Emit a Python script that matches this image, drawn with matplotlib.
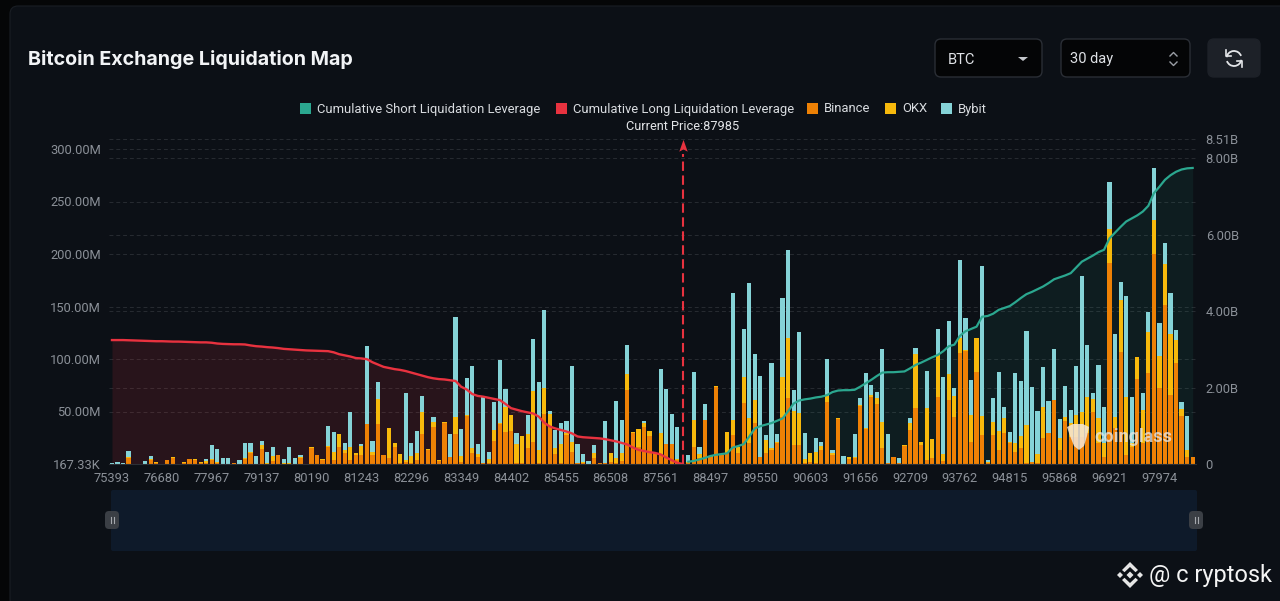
import numpy as np
import matplotlib
matplotlib.use("Agg")
import matplotlib.pyplot as plt
from matplotlib.patches import FancyBboxPatch, Polygon, Rectangle, Arc

plt.rcParams['font.family'] = ['Roboto', 'DejaVu Sans']

# values in millions, one per price bucket
binance = [0.3,0.3,0.3,5.7,0.3,0,0.3,4.1,1.3,0,
           3.5,5.4,0.3,1,4.4,4.1,1,1.3,3.8,1,
           0.3,0.3,0.6,0.3,4.4,10.8,0.3,14,0.3,3.2,
           8.3,0.3,0.3,0.3,5.4,0.3,14.9,8.3,3.5,16.5,
           3.8,15.9,10.8,3.8,8.6,8.3,38.1,8.3,38.1,8.3,
           5.4,15.9,1,1.6,0.6,3.8,28.6,13.3,35.6,3.2,
           39.4,6.4,28.6,2.2,45.7,10.2,7,0.6,0.6,22.2,
           38.1,30.8,31.8,1.3,1.3,14.9,20.6,0.6,47.6,34.9,
           9.5,0.6,27.6,11.4,0.6,0.6,0.3,5.7,0.6,0.6,
           1.6,1.3,3.2,70.5,29.2,16.5,35.6,26.7,9.5,9.5,
           18.7,18.7,3.8,0,1.3,16.5,5.4,41.9,7,73.7,
           8.6,10.2,27.6,10.8,57.8,19.7,38.7,6.4,10.2,13.3,
           19.7,45.1,62.9,18.1,18.1,0.6,2.2,0.6,13.3,59.4,
           8.6,42.5,0.3,4.4,5.4,55.2,33.3,64.1,57.2,14.9,
           0.6,6.7,1.3,17.1,32.4,53,18.1,3.8,5.4,64.1,
           3.2,61,45.1,105.4,107.6,21.3,87.9,27.6,0.6,27.6,
           13.3,29.2,19.7,11.7,14.9,1.3,1.9,1.3,24.4,29.2,
           61,13.3,41.3,26,26,26,29.2,49.8,19.7,7,
           191.1,34,107,8.6,16.5,80.6,19.7,87,200,72.1,
           151.4,65.7,95.9,46,6.4,6.4]
okx = [0,0,0,0.6,0,0,0,0.3,0.3,0,
       0.3,1.3,0,1,0.3,0.3,1,1.3,0.6,1,
       0,0,0.6,0,1,0.6,0,4.4,0.6,4.4,
       0.6,1,0.3,0,1.6,0,1,0.3,1,0.6,
       7.9,12.7,2.5,12.7,2.2,8.9,0,3.2,23.5,0.3,
       28.6,4.4,8.6,2.2,7,6.4,20.6,1,4.4,0.6,
       1,0.6,16.5,5.7,0.6,4.8,2.5,0,3.8,10.2,
       0.6,23.2,14.9,17.8,25.4,13.3,49.2,12.7,24.8,12.7,
       5.4,18.1,1.6,9.8,0.3,1.3,0,5.1,0.6,0.6,
       8.6,4.4,7,15.2,1,16.5,3.2,5.1,0.6,20.3,
       0.6,0.3,0.6,0,0.6,25.4,4.1,0.3,0.3,0.6,
       0,20,14.3,5.1,25.4,24.1,22.2,0.6,12.7,1.6,
       1,38.1,57.2,32.7,30.2,3.8,7.9,11.1,3.8,5.4,
       1.6,1.3,0,1.9,1,1,0.6,1.6,5.7,25.1,
       0,0,0,1,7,51.4,2.9,49.8,18.1,39.7,
       6.4,24.8,19.7,14.3,1,25.4,31.8,18.1,1.6,12.7,
       18.4,14.3,1.6,7.9,11.7,35.9,0,8.3,30.2,0.6,
       0,11.1,3.2,12.7,20.6,23.2,34.3,11.7,23.8,12.7,
       32.4,10.5,49.2,55.6,3.2,21.6,31.8,38.7,32.4,30.8,
       38.7,58.1,22.2,6,7,0]
bybit = [0.6,1.3,0.3,6.4,0,0,2.9,3.2,0,0,
         0,0,0,0,0,0,0,2.5,14,12.1,
         5.7,5.4,0,3.2,14.9,8.6,7.3,3.2,10.2,8.9,
         0,3.5,15.2,5.4,1.9,0,0,0,0,19,
         19,0,7,33.3,0,1.9,74,10.5,16.2,0,
         0,0,0,63.5,12.1,21.6,15.9,0,4.4,0,
         0,21.6,94.6,25.4,35.6,78.7,9.5,62.9,7,26.4,
         60.3,17.8,0,10.2,0,18.7,48.9,64.5,74.3,2.9,
         17.5,20.6,11.7,72.1,17.8,7.6,2.5,7,0,39.7,
         0,54.6,31.8,27.3,0,0,2.5,0,0,61,
         51.8,28.3,31.1,0,6.4,45.7,6.4,15.2,0,0,
         0,0,120.7,0,45.7,128.9,43.8,76.8,4.8,81,
         8.3,74.6,83.8,19.7,77.2,25.4,0,12.7,3.8,35.6,
         2.9,0,7.3,0,22.2,6.7,53,9.2,5.4,69.9,
         28.3,0,4.1,0,4.1,6,0,35.2,0,25.1,
         73,50.8,7.9,74.3,30.2,33.3,0,142.6,1.6,22.9,
         55.6,10.5,9.2,66.7,52.4,89.9,71.1,41.3,37.8,29.8,
         48.6,18.7,29.8,12.7,46.7,129.5,49.5,6.4,50.8,34.9,
         45.4,79.1,16.8,95.6,44.5,0,15.9,18.7,49.2,31.1,
         20.6,39.4,9.5,6.7,32.4,0]

# cumulative leverage in billions
long_cum = [3.24,3.24,3.24,3.235,3.23,3.225,3.22,3.215,3.21,3.21,
            3.205,3.2,3.2,3.195,3.19,3.185,3.18,3.18,3.17,3.15,
            3.14,3.135,3.13,3.13,3.125,3.1,3.08,3.07,3.055,3.045,
            3.03,3.01,3.0,2.99,2.98,2.97,2.965,2.96,2.955,2.95,
            2.92,2.87,2.84,2.81,2.77,2.76,2.74,2.66,2.6,2.54,
            2.51,2.48,2.46,2.43,2.39,2.35,2.31,2.27,2.24,2.22,
            2.21,2.19,2.17,2.02,1.95,1.83,1.78,1.76,1.73,1.7,
            1.67,1.57,1.46,1.42,1.38,1.35,1.32,1.24,1.08,0.98,
            0.93,0.89,0.85,0.8,0.72,0.7,0.69,0.68,0.67,0.65,
            0.62,0.59,0.55,0.51,0.43,0.37,0.34,0.31,0.29,0.25,
            0.17,0.1,0.03,0]
short_cum = [0.06,0.08,0.12,0.16,0.21,0.24,0.26,0.28,0.43,0.47,
             0.52,0.72,0.93,0.99,1.03,1.07,1.13,1.19,1.38,1.58,
             1.66,1.69,1.71,1.74,1.76,1.8,1.88,1.92,1.93,1.93,
             1.94,2.02,2.11,2.2,2.3,2.39,2.4,2.4,2.41,2.42,
             2.5,2.59,2.65,2.72,2.79,2.85,2.95,3.08,3.12,3.35,
             3.47,3.53,3.59,3.85,3.87,3.93,4.03,4.08,4.13,4.23,
             4.34,4.44,4.5,4.57,4.64,4.73,4.83,4.88,4.93,4.99,
             5.14,5.29,5.37,5.45,5.54,5.6,5.9,6.05,6.2,6.34,
             6.42,6.5,6.6,6.75,7.08,7.25,7.43,7.55,7.64,7.7,
             7.73,7.74]

price_labels = ["75393","76680","77967","79137","80190","81243","82296","83349",
                "84402","85455","86508","87561","88497","89550","90603","91656",
                "92709","93762","94815","95868","96921","97974"]
left_ticks = [0.167,50,100,150,200,250,300]
left_labels = ["167.33K","50.00M","100.00M","150.00M","200.00M","250.00M","300.00M"]
right_ticks = [0,2,4,6,8,8.51]
right_labels = ["0","2.00B","4.00B","6.00B","8.00B","8.51B"]
current_price_idx = 103

BG = "#0c1016"
OUTER = "#050607"
GRID = "#272b31"
TICK = "#8b9098"
C_SHORT = "#2ba78f"
C_LONG = "#e8323f"
C_BIN = "#ee8105"
C_OKX = "#f7b90c"
C_BYBIT = "#85d3d7"
W, H = 1280, 601

fig = plt.figure(figsize=(W/100, H/100), dpi=100, facecolor=OUTER)

# card behind everything, pixel coordinates
back = fig.add_axes([0, 0, 1, 1], zorder=-1)
back.set_xlim(0, W)
back.set_ylim(H, 0)
back.axis("off")
back.add_patch(FancyBboxPatch((10, 6), W, H, boxstyle="round,pad=0,rounding_size=8",
                              fc=BG, ec="#1a1e24", lw=0.8))
back.add_patch(FancyBboxPatch((111, 490), 1086, 61, boxstyle="round,pad=0,rounding_size=2",
                              fc="#0e1a2a", ec="none"))

# main axes
left, right, top, bottom = 109.2, 1196, 138.5, 464
ax = fig.add_axes([left/W, 1-bottom/H, (right-left)/W, (bottom-top)/H])
ax.patch.set_alpha(0)
x = np.arange(len(binance))
b = np.array(binance)
o = np.array(okx)
y = np.array(bybit)
ratio = 310/8.51

ax.fill_between(x[:len(long_cum)], np.array(long_cum)*ratio, color=C_LONG, alpha=0.13, lw=0, zorder=1)
ax.fill_between(x[-len(short_cum):], np.array(short_cum)*ratio, color=C_SHORT, alpha=0.09, lw=0, zorder=1)
ax.bar(x, b, 0.76, color=C_BIN, zorder=2)
ax.bar(x, o, 0.76, bottom=b, color=C_OKX, zorder=2)
ax.bar(x, y, 0.76, bottom=b+o, color=C_BYBIT, zorder=2)

ax.set_xlim(-0.5, 195.6)
ax.set_ylim(0, 310)
ax.set_xticks(x[::9][:len(price_labels)], price_labels)
ax.set_yticks(left_ticks, left_labels)
ax.tick_params(axis="both", length=0, labelcolor=TICK, labelsize=9.3)
ax.tick_params(axis="y", pad=6)
ax.tick_params(axis="x", pad=6)
for v in left_ticks[1:]:
    ax.axhline(v, color=GRID, lw=0.7, ls=(0, (4, 3)), zorder=0)
for v in right_ticks[1:]:
    ax.axhline(v*ratio, color=GRID, lw=0.7, ls=(0, (4, 3)), zorder=0)
for s in ["top", "left", "right"]:
    ax.spines[s].set_visible(False)
ax.spines["bottom"].set_color("#2c3036")

ax2 = ax.twinx()
ax2.patch.set_alpha(0)
ax2.set_ylim(0, 8.51)
ax2.set_yticks(right_ticks, right_labels)
ax2.tick_params(axis="y", length=0, labelcolor=TICK, labelsize=9.3, pad=7)
for s in ax2.spines.values():
    s.set_visible(False)
ax2.plot(x[:len(long_cum)], long_cum, color=C_LONG, lw=1.7)
ax2.plot(x[-len(short_cum):], short_cum, color=C_SHORT, lw=1.6)

# current price arrow
ax2.plot([current_price_idx]*2, [0, 8.1], color=C_LONG, lw=1.5, ls=(0, (4.5, 2.2)))
head = [(0, 1), (0.55, -0.55), (0, -0.25), (-0.55, -0.55)]
ax2.plot(current_price_idx, 8.29, marker=head, ms=11, color=C_LONG, mew=0)

# overlay for the page furniture
ui = fig.add_axes([0, 0, 1, 1], zorder=5)
ui.set_xlim(0, W)
ui.set_ylim(H, 0)
ui.axis("off")

ui.text(28, 59.5, "Bitcoin Exchange Liquidation Map", color="#f2f4f6", fontsize=14.2,
        fontweight="bold", family=["Inter", "DejaVu Sans"], va="center")

legend_items = [(300, "Cumulative Short Liquidation Leverage", C_SHORT),
                (556, "Cumulative Long Liquidation Leverage", C_LONG),
                (807, "Binance", C_BIN),
                (885, "OKX", C_OKX),
                (941, "Bybit", C_BYBIT)]
for lx, name, col in legend_items:
    ui.add_patch(Rectangle((lx, 102.5), 11, 11, fc=col, ec="none"))
    ui.text(lx+17, 109, name, color="#d9dce0", fontsize=9.4, va="center")
ui.text(683, 126, "Current Price:87985", color="#e3e5e8", fontsize=9.2, ha="center", va="center")

# controls
for bx, bw, fc, ec in [(935, 107, "#040506", "#2a2e35"), (1061, 129, "#040506", "#2a2e35"),
                       (1208, 52, "#1d2128", "#1d2128")]:
    ui.add_patch(FancyBboxPatch((bx, 39), bw, 38, boxstyle="round,pad=0,rounding_size=6",
                                fc=fc, ec=ec, lw=1))
ui.text(948, 59.5, "BTC", color="#dfe2e6", fontsize=10.5, va="center")
ui.text(1070, 59.5, "30 day", color="#dfe2e6", fontsize=10.5, va="center")
ui.add_patch(Polygon([(1018, 57), (1028, 57), (1023, 61)], fc="#c4c7cc", ec="none"))
ui.plot([1170, 1173.5, 1177], [56, 52.5, 56], color="#9a9ea5", lw=1)
ui.plot([1170, 1173.5, 1177], [62, 65.5, 62], color="#9a9ea5", lw=1)
ui.add_patch(Arc((1234, 58.5), 15, 15, theta1=190, theta2=340, color="#e4e6e9", lw=1.3))
ui.add_patch(Arc((1234, 58.5), 15, 15, theta1=10, theta2=160, color="#e4e6e9", lw=1.3))
ui.plot([1226, 1226, 1231], [50, 56, 56], color="#e4e6e9", lw=1.2)
ui.plot([1242, 1242, 1237], [67, 61, 61], color="#e4e6e9", lw=1.2)

# slider handles
for hx in (112, 1196):
    ui.add_patch(FancyBboxPatch((hx-7, 511), 14, 18, boxstyle="round,pad=0,rounding_size=4",
                                fc="#3b3f45", ec="none"))
    ui.plot([hx-1.5, hx-1.5], [517, 523], color="#a5a8ad", lw=0.8)
    ui.plot([hx+1.5, hx+1.5], [517, 523], color="#a5a8ad", lw=0.8)

# coinglass mark
ui.add_patch(Polygon([(1067, 427), (1073, 424), (1083, 424), (1089, 427), (1087, 436),
                      (1084, 446), (1079, 450), (1074, 446), (1070, 436)],
                     fc="#f4e8da", ec="none", alpha=0.85))
ui.text(1094, 437, "coinglass", color="#e8e8e8", alpha=0.75, fontsize=13,
        fontweight="bold", va="center")

# binance mark + handle
cx, cy = 1130, 575
ui.add_patch(Polygon([(cx-3.5, cy), (cx, cy-3.5), (cx+3.5, cy), (cx, cy+3.5)], fc="#e6e6e6", ec="none"))
for dx in (-10, 10):
    ui.add_patch(Polygon([(cx+dx-3, cy), (cx+dx, cy-3), (cx+dx+3, cy), (cx+dx, cy+3)], fc="#e6e6e6", ec="none"))
for sgn in (-1, 1):
    ui.add_patch(Polygon([(cx-8, cy+sgn*5), (cx, cy+sgn*13), (cx+8, cy+sgn*5), (cx+5.5, cy+sgn*2.8),
                          (cx, cy+sgn*8), (cx-5.5, cy+sgn*2.8)], fc="#e6e6e6", ec="none"))
ui.text(1149, 575.5, "@ c ryptosk", color="#f4f4f4", fontsize=17, va="center")

fig.savefig("out.png", dpi=100, facecolor=OUTER)
